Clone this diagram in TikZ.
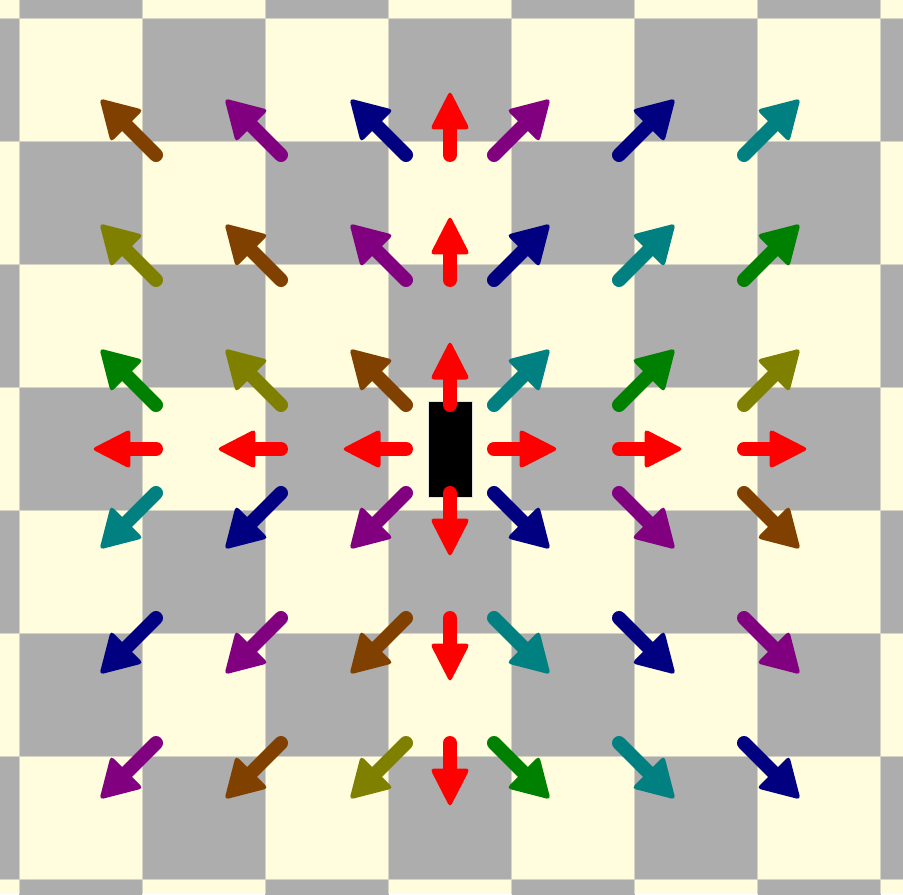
\documentclass[tikz,border=0pt]{standalone}

\definecolor{cream}{RGB}{255,253,222}
\definecolor{boardgray}{RGB}{173,173,173}
\definecolor{gridline}{RGB}{214,212,196}
\definecolor{cbrown}{HTML}{804000}
\definecolor{cpurple}{HTML}{800080}
\definecolor{cnavy}{HTML}{000080}
\definecolor{cteal}{HTML}{008080}
\definecolor{colive}{HTML}{808000}
\definecolor{cgreen}{HTML}{008000}
\definecolor{cred}{HTML}{FF0000}

\tikzset{
  pics/fatarrow/.style 2 args={code={
    \draw[line width=7pt, line cap=round] (0,0) -- (#1-30,0);
    \fill[rounded corners=2pt] (#1+3,0) -- (#1-36,#2) -- (#1-36,-#2) -- cycle;
  }}
}

\begin{document}
\begin{tikzpicture}[x=0.5pt, y=0.5pt,
    block/.style={fill=black, draw=white!88!black, line width=0.5pt,
      minimum width=22pt, minimum height=48pt, inner sep=0pt}]
    \useasboundingbox (-450,-445) rectangle (453,449);
    \clip (-450,-445) rectangle (453,449);

    % board
    \fill[cream] (-450,-445) rectangle (453,449);
    \foreach \i in {-4,...,4}
      \foreach \j in {-4,...,4} {
        \ifodd\numexpr\i+\j+10\relax
          \fill[boardgray] (123*\i-61.5,123*\j-61.5) rectangle +(123,123);
        \fi
      }
    \foreach \k in {-3.5,-2.5,...,3.5} {
      \draw[gridline, line width=0.75pt] (123*\k,-445) -- (123*\k,449);
      \draw[gridline, line width=0.75pt] (-450,123*\k) -- (453,123*\k);
    }

    \node[block] (block) at (0,0) {};

    % arrows, one row at a time (top to bottom)
    \foreach \j/\cols in {
        3/{cbrown,cpurple,cnavy,cred,cpurple,cnavy,cteal},
        2/{colive,cbrown,cpurple,cred,cnavy,cteal,cgreen},
        1/{cgreen,colive,cbrown,cred,cteal,cgreen,colive},
        0/{cred,cred,cred,black,cred,cred,cred},
        -1/{cteal,cnavy,cpurple,cred,cnavy,cpurple,cbrown},
        -2/{cnavy,cpurple,cbrown,cred,cteal,cnavy,cpurple},
        -3/{cpurple,cbrown,colive,cred,cgreen,cteal,cnavy}} {
      \foreach \col [count=\c] in \cols {
        \pgfmathtruncatemacro\i{\c-4}
        \pgfmathtruncatemacro\isblock{and(\i==0,\j==0)}
        \ifnum\isblock=0
          \pgfmathsetmacro\sx{(\i>0)-(\i<0)}
          \pgfmathsetmacro\sy{(\j>0)-(\j<0)}
          \pgfmathsetmacro\px{\sx*(125*abs(\i)-81)}
          \pgfmathsetmacro\py{\sy*(125*abs(\j)-81)}
          \pgfmathsetmacro\ang{atan2(\sy,\sx)}
          \pgfmathsetmacro\len{61.5+15.5*abs(\sx*\sy)}
          \pgfmathsetmacro\half{20+3*abs(\sx*\sy)}
          \pic[rotate=\ang, color=\col] at (\px,\py) {fatarrow={\len}{\half}};
        \fi
      }
    }
\end{tikzpicture}
\end{document}
